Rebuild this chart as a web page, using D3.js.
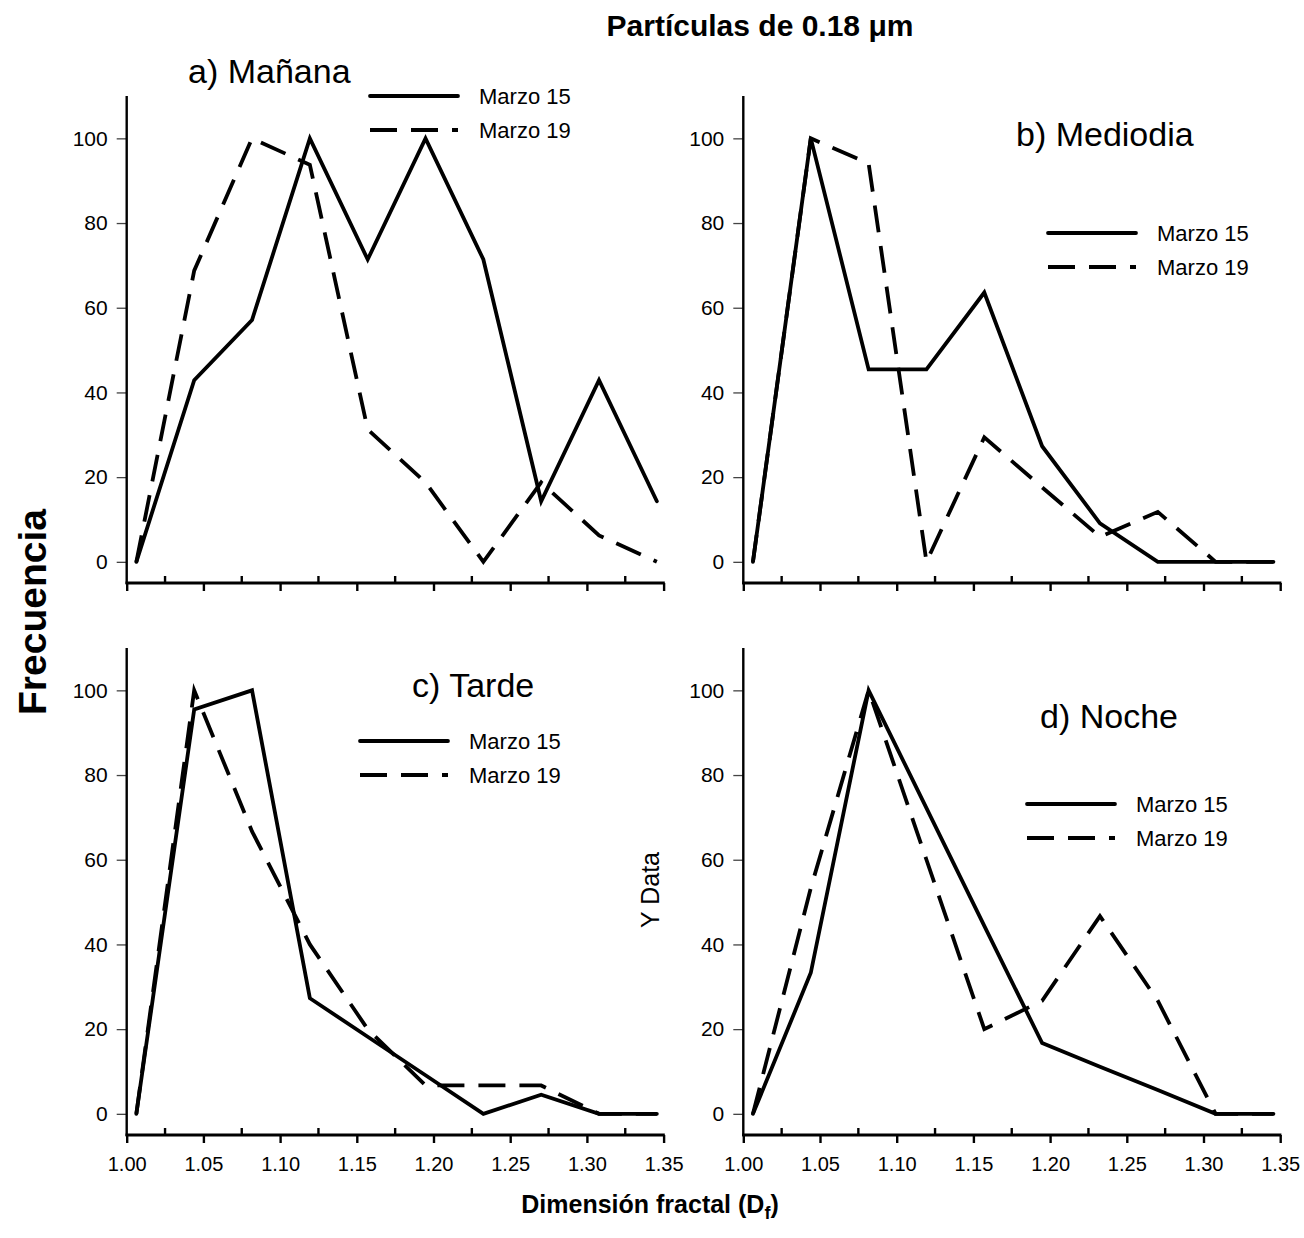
<!DOCTYPE html>
<html><head><meta charset="utf-8">
<script src="https://cdn.jsdelivr.net/npm/d3@7"></script>
<style>body{margin:0;background:#fff}svg{display:block;font-family:"Liberation Sans",Arial,sans-serif}</style>
</head><body>
<svg id="c" width="1304" height="1238"></svg>
<script>
const xValues = [1.0063,1.0440,1.0817,1.1194,1.1571,1.1948,1.2325,1.2702,1.3079,1.3456];
const xTicks = [1.00,1.05,1.10,1.15,1.20,1.25,1.30,1.35];
const yTicks = [0,20,40,60,80,100];
const seriesNames = ["Marzo 15","Marzo 19"];
const panelTitles = ["a) Mañana","b) Mediodia","c) Tarde","d) Noche"];
const mananaM15 = [0,42.9,57.1,100,71.4,100,71.4,14.3,42.9,14.3];
const mananaM19 = [0,68.75,100,93.75,31.25,18.75,0,18.75,6.25,0];
const mediodiaM15 = [0,100,45.45,45.45,63.6,27.3,9.1,0,0,0];
const mediodiaM19 = [0,100,94.1,0,29.4,17.6,5.9,11.8,0,0];
const tardeM15 = [0,95.5,100,27.3,18.2,9.1,0,4.5,0,0];
const tardeM19 = [0,100,66.7,40,20,6.7,6.7,6.7,0,0];
const nocheM15 = [0,33.3,100,72.2,44.4,16.7,11.1,5.6,0,0];
const nocheM19 = [0,53.3,100,60,20,26.7,46.7,26.7,0,0];

const svg = d3.select("#c");
const panels = [
  {x0:126.7, y0:583, y1:96, title:panelTitles[0], tx:188, ty:83, lx:370, ly:96, data:[mananaM15,mananaM19], labels:false},
  {x0:743.3, y0:583, y1:96, title:panelTitles[1], tx:1016, ty:146, lx:1048, ly:233, data:[mediodiaM15,mediodiaM19], labels:false},
  {x0:126.7, y0:1135, y1:648, title:panelTitles[2], tx:412, ty:697, lx:360, ly:741, data:[tardeM15,tardeM19], labels:true},
  {x0:743.3, y0:1135, y1:648, title:panelTitles[3], tx:1040, ty:728, lx:1027, ly:804, data:[nocheM15,nocheM19], labels:true}
];
const W = 7*76.7;
const dashes = [null,"27,14"];

panels.forEach((p,pi)=>{
  const x = d3.scaleLinear().domain([1.0,1.35]).range([p.x0,p.x0+W]);
  const y = d3.scaleLinear().domain([-5,110]).range([p.y0,p.y1]);
  const g = svg.append("g");
  const ya = g.append("g").attr("transform",`translate(${p.x0},0)`)
    .call(d3.axisLeft(y).tickValues(yTicks).tickSize(10).tickPadding(9).tickFormat(d3.format("d")));
  ya.select(".domain").remove();
  ya.selectAll(".tick line").attr("stroke","#444").attr("stroke-width",1.3);
  ya.selectAll("text").attr("font-size",21).attr("fill","#000");
  g.append("line").attr("x1",p.x0).attr("x2",p.x0).attr("y1",p.y1).attr("y2",p.y0+1)
    .attr("stroke","#000").attr("stroke-width",2.4);
  const xa = g.append("g").attr("transform",`translate(0,${p.y0})`)
    .call(d3.axisBottom(x).tickValues(xTicks).tickSize(8).tickPadding(14)
      .tickFormat(p.labels ? d3.format(".2f") : ()=>""));
  xa.select(".domain").remove();
  xa.selectAll(".tick line").attr("stroke","#000").attr("stroke-width",2.4);
  xa.selectAll("text").attr("font-size",20).attr("fill","#000");
  const minor = xTicks.slice(0,-1).map(v=>v+0.025);
  g.selectAll(".mt").data(minor).join("line")
    .attr("x1",d=>x(d)).attr("x2",d=>x(d)).attr("y1",p.y0).attr("y2",p.y0-7)
    .attr("stroke","#000").attr("stroke-width",2.4);
  g.append("line").attr("x1",p.x0-1.2).attr("x2",p.x0+W+1.2).attr("y1",p.y0).attr("y2",p.y0)
    .attr("stroke","#000").attr("stroke-width",3.2);
  const line = d3.line().x((d,i)=>x(xValues[i])).y(d=>y(d));
  p.data.forEach((s,si)=>{
    g.append("path").datum(s).attr("d",line).attr("fill","none")
      .attr("stroke","#000").attr("stroke-width",3.8)
      .attr("stroke-linejoin","miter").attr("stroke-linecap", si ? "butt" : "round")
      .attr("stroke-dasharray",dashes[si]);
  });
  g.append("text").attr("x",p.tx).attr("y",p.ty).attr("font-size",34).text(p.title);
  seriesNames.forEach((n,si)=>{
    const ly = p.ly + si*34;
    g.append("line").attr("x1",p.lx).attr("x2",p.lx+88).attr("y1",ly).attr("y2",ly)
      .attr("stroke","#000").attr("stroke-width",3.8).attr("stroke-linecap", si ? "butt" : "round")
      .attr("stroke-dasharray",dashes[si]);
    g.append("text").attr("x",p.lx+109).attr("y",ly+8).attr("font-size",22).text(n);
  });
});

svg.append("text").attr("x",760).attr("y",36).attr("text-anchor","middle")
  .attr("font-size",30).attr("font-weight","bold").text("Partículas de 0.18 μm");
svg.append("text").attr("transform","translate(46,612) rotate(-90)").attr("text-anchor","middle")
  .attr("font-size",39).attr("font-weight","bold").text("Frecuencia");
svg.append("text").attr("transform","translate(659,890) rotate(-90)").attr("text-anchor","middle")
  .attr("font-size",25).text("Y Data");
const xl = svg.append("text").attr("x",650).attr("y",1213).attr("text-anchor","middle")
  .attr("font-size",25).attr("font-weight","bold");
xl.append("tspan").text("Dimensión fractal (D");
xl.append("tspan").attr("font-size",18).attr("dy",6).text("f");
xl.append("tspan").attr("dy",-6).text(")");
</script>
</body></html>
